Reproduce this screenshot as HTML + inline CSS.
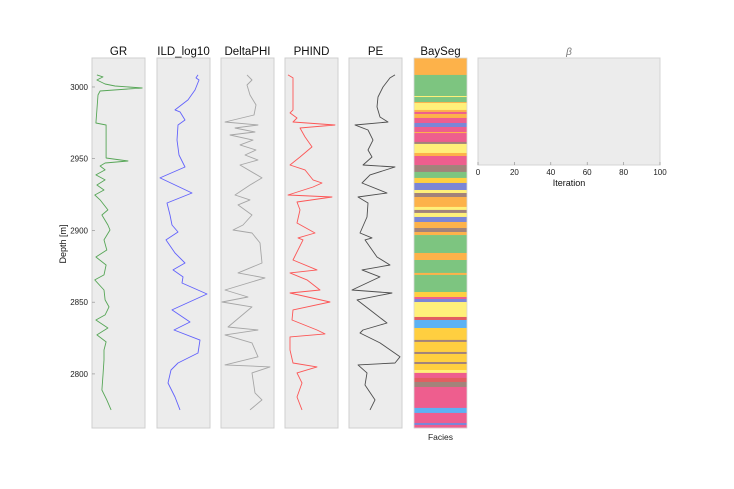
<!DOCTYPE html>
<html><head><meta charset="utf-8"><style>
html,body{margin:0;padding:0;background:#fff;}
svg{display:block;font-family:"Liberation Sans","DejaVu Sans",sans-serif;}
</style></head><body>
<svg id="chart" width="734" height="489" viewBox="0 0 734 489" xmlns="http://www.w3.org/2000/svg"></svg>
<script>
const depthTicks=[3000,2950,2900,2850,2800];
const grDepth=[3008.4,3007.0,3004.9,3002.1,3000.7,2999.3,2997.2,2994.4,2984.0,2974.9,2973.5,2963.0,2950.5,2948.4,2947.0,2944.9,2942.2,2938.7,2935.2,2931.7,2928.2,2924.7,2921.3,2914.3,2910.8,2903.8,2900.3,2893.4,2886.4,2881.5,2875.9,2869.0,2865.5,2858.5,2851.6,2846.7,2841.1,2837.6,2832.0,2827.2,2822.3,2816.7,2809.8,2799.3,2788.8,2781.9,2774.9];
const grValues=[14,31,14,37,65,142,23,17,14,11,40,40,40,102,37,23,37,11,37,14,34,8,23,45,28,45,51,34,42,11,40,34,8,34,37,48,37,11,45,14,40,34,34,31,28,42,54];
const ildDepth=[3008.4,3006.3,3004.9,2997.9,2991.0,2984.0,2982.6,2977.0,2973.5,2963.0,2952.6,2944.2,2936.6,2926.1,2919.1,2910.8,2903.8,2898.9,2893.4,2884.3,2877.3,2872.5,2867.6,2863.4,2855.7,2844.6,2836.2,2830.6,2823.6,2814.6,2807.6,2802.7,2793.7,2783.9,2774.9];
const ildValues=[41,39,42,38,31,18,23,28,21,20,22,28,3,35,10,13,15,21,9,18,28,16,26,25,50,15,33,17,43,41,21,14,11,18,23];
const dphiDepth=[3008.4,3004.9,3001.4,2994.4,2987.5,2980.5,2975.6,2973.5,2971.4,2968.6,2966.5,2963.0,2959.6,2956.1,2952.6,2949.1,2945.6,2936.6,2931.7,2924.7,2921.3,2917.8,2910.8,2903.8,2900.3,2898.2,2891.3,2877.3,2870.4,2866.9,2858.5,2853.6,2850.1,2846.7,2832.7,2830.6,2827.2,2821.6,2811.9,2806.3,2804.9,2800.7,2786.8,2781.9,2774.9];
const dphiValues=[26,31,26,29,35,33,4,37,14,34,9,32,19,35,24,37,19,41,29,14,29,17,31,22,12,31,39,41,17,44,4,27,1,31,7,37,4,31,37,4,49,31,34,41,29];
const phindDepth=[3008.4,3006.3,2984.0,2981.9,2978.4,2975.6,2973.5,2971.4,2965.2,2958.2,2951.2,2945.6,2942.2,2935.2,2933.1,2930.3,2924.7,2923.3,2919.8,2914.3,2905.2,2898.2,2894.8,2893.4,2879.4,2872.5,2870.4,2865.5,2858.5,2856.4,2850.1,2844.6,2837.6,2830.6,2827.9,2825.8,2816.7,2807.6,2804.9,2800.7,2793.7,2783.9,2774.9];
const phindValues=[3,8,8,5,12,8,50,15,20,27,15,5,20,28,37,28,3,47,12,15,12,30,13,18,8,32,5,22,35,5,45,8,7,32,40,5,5,8,32,12,17,12,17];
const peDepth=[3008.4,3006.3,3000.0,2993.0,2986.1,2979.1,2975.6,2973.5,2970.0,2963.0,2956.1,2951.2,2945.6,2944.2,2938.7,2933.1,2926.1,2923.3,2919.1,2909.4,2898.2,2894.8,2893.4,2881.5,2875.9,2872.5,2867.6,2858.5,2856.4,2851.6,2844.6,2835.5,2830.6,2828.5,2821.6,2811.9,2807.6,2806.3,2800.7,2792.3,2781.9,2774.9];
const peValues=[46,41,34,29,28,31,39,6,19,24,19,23,14,46,21,13,38,9,19,18,11,23,16,28,41,13,31,3,43,8,21,38,14,11,31,51,46,9,18,16,26,21];
const faciesTops=[3020.2,3008.4,2993.7,2993.0,2989.5,2988.8,2984.0,2982.6,2981.2,2978.4,2974.9,2972.1,2968.6,2967.9,2961.7,2960.3,2954.0,2951.9,2945.6,2940.8,2936.6,2933.1,2928.2,2926.1,2923.3,2916.4,2914.3,2912.2,2909.4,2905.9,2901.7,2898.9,2896.8,2884.3,2879.4,2870.4,2869.0,2857.1,2853.6,2852.2,2850.1,2839.7,2837.6,2832.0,2823.7,2822.3,2815.3,2813.9,2808.3,2806.9,2802.7,2800.7,2797.2,2794.4,2790.9,2776.3,2772.8,2765.8,2764.4];
const faciesBottom=2762.3;
const faciesClass=["orange","green","yellow","green","orange","yellow","orange","pink","orange","pink","purple","pink","orange","pink","brown","yellow","orange","pink","brown","green","gold","purple","yellow","brown","orange","yellow","brown","yellow","purple","orange","brown","orange","green","orange","green","orange","green","gold","pink","purple","yellow","red","blue","gold","brown","gold","brown","gold","brown","gold","yellow","pink","red","brown","pink","blue","pink","purple","pink"];
const betaTicks=[0,20,40,60,80,100];

const NS="http://www.w3.org/2000/svg";
const svg=document.getElementById('chart');
function mk(tag,attrs,parent){const e=document.createElementNS(NS,tag);for(const k in attrs)e.setAttribute(k,attrs[k]);(parent||svg).appendChild(e);return e;}
const plotTop=58,plotBot=428,dTop=3020.2,dBot=2762.3;
function yScale(d){return plotTop+(dTop-d)/(dTop-dBot)*(plotBot-plotTop);}
const colors={orange:"#fdb24a",green:"#7dc580",yellow:"#fff07a",gold:"#ffcf40",pink:"#ee5e8e",purple:"#7b86d6",brown:"#a2837a",blue:"#5db2f3",red:"#e35d60"};

const panels=[
 {name:"GR",x:92,dom:[0,150],d:grDepth,v:grValues,c:"#3d9a3d",id:"gr"},
 {name:"ILD_log10",x:157,dom:[0,53],d:ildDepth,v:ildValues,c:"#4a4aff",id:"ild"},
 {name:"DeltaPHI",x:221,dom:[0,53],d:dphiDepth,v:dphiValues,c:"#9a9a9a",id:"deltaphi"},
 {name:"PHIND",x:285,dom:[0,53],d:phindDepth,v:phindValues,c:"#ff3c3c",id:"phind"},
 {name:"PE",x:349,dom:[0,53],d:peDepth,v:peValues,c:"#333333",id:"pe"}
];
const W=53;
panels.forEach(p=>{
  const g=mk('g',{});
  
  
  const r=mk('rect',{x:p.x,y:plotTop,width:W,height:plotBot-plotTop,fill:"#ececec",stroke:"#cfcfcf","stroke-width":1},g);
  
  
  const t=mk('text',{x:p.x+W/2,y:55,"text-anchor":"middle","font-size":11.5,fill:"#111"},g);
  t.textContent=p.name;
  
  
  const xs=v=>p.x+(v-p.dom[0])/(p.dom[1]-p.dom[0])*W;
  const pts=p.d.map((d,i)=>xs(p.v[i]).toFixed(1)+","+yScale(d).toFixed(1)).join(" ");
  const pl=mk('polyline',{points:pts,fill:"none",stroke:p.c,"stroke-width":0.9,"stroke-opacity":0.85,"stroke-linejoin":"round"},g);
  
  
});
depthTicks.forEach(d=>{
  const t=mk('text',{x:88,y:yScale(d)+3,"text-anchor":"end","font-size":8,fill:"#222"});
  t.textContent=d;
  
  
  const l=mk('line',{x1:92,x2:95,y1:yScale(d),y2:yScale(d),stroke:"#888","stroke-width":0.6});
  
  
});
const yt=mk('text',{x:0,y:0,transform:"translate(66,244) rotate(-90)","text-anchor":"middle","font-size":9,fill:"#111"});
yt.textContent="Depth [m]";


const fg=mk('g',{});


faciesTops.forEach((d,i)=>{
  const d2=i+1<faciesTops.length?faciesTops[i+1]:faciesBottom;
  const y1=yScale(d),y2=yScale(d2);
  const r=mk('rect',{x:414,y:y1,width:53,height:(y2-y1)+0.3,fill:colors[faciesClass[i]]},fg);
  
  
});
mk('rect',{x:414,y:plotTop,width:53,height:plotBot-plotTop,fill:"none",stroke:"#d8d8d8","stroke-width":0.8},fg);
const ft=mk('text',{x:440.5,y:55,"text-anchor":"middle","font-size":11.5,fill:"#111"});
ft.textContent="BaySeg";


const fx=mk('text',{x:440.5,y:440,"text-anchor":"middle","font-size":8.5,fill:"#222"});
fx.textContent="Facies";


const bx0=478,bx1=660,by0=58,by1=165;
const br=mk('rect',{x:bx0,y:by0,width:bx1-bx0,height:by1-by0,fill:"#ececec",stroke:"#d4d4d4","stroke-width":1});


const bt=mk('text',{x:569,y:55,"text-anchor":"middle","font-size":10,"font-style":"italic",fill:"#777"});
bt.textContent="β";


const bxs=v=>bx0+v/100*(bx1-bx0);
betaTicks.forEach(v=>{
  const l=mk('line',{x1:bxs(v),x2:bxs(v),y1:by1,y2:by1-3,stroke:"#888","stroke-width":0.6});
  
  
  const t=mk('text',{x:bxs(v),y:175,"text-anchor":"middle","font-size":8,fill:"#222"});
  t.textContent=v;
  
  
});
const it=mk('text',{x:569,y:186,"text-anchor":"middle","font-size":9,fill:"#111"});
it.textContent="Iteration";


</script>
</body></html>
